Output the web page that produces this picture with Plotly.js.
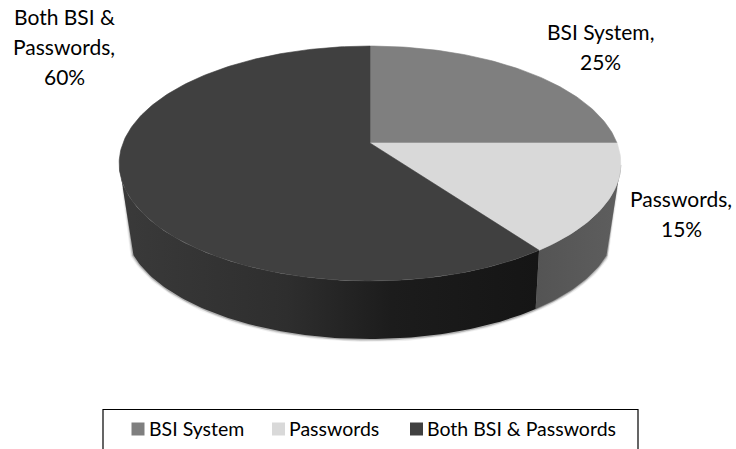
<!DOCTYPE html>
<html>
<head>
<meta charset="utf-8">
<script src="https://cdn.plot.ly/plotly-3.0.1.min.js"></script>
<style>html,body{margin:0;padding:0;background:#fff}#chart{width:736px;height:449px}</style>
</head>
<body>
<div id="chart"></div>
<script>
// Share of respondents per authentication method
const categories = ['BSI System', 'Passwords', 'Both BSI & Passwords'];
const values = [25, 15, 60];
const labelLines = [['BSI System,'], ['Passwords,'], ['Both BSI &', 'Passwords,']];
const topColors = ['#7f7f7f', '#d9d9d9', '#404040'];

// Perspective discs of the cylinder: top face and bottom rim, in pixel axes
const topDisc = {cx: 370, cy: 143, a: 247, b: 113.9, k: 0.1746};
const rimDisc = {cx: 370, cy: 204, a: 242, b: 111.5, k: 0.1746};

function project(d, frac) {
  const t = 2 * Math.PI * frac, w = 1 + d.k * Math.cos(t);
  return [d.cx + d.a * Math.sin(t) / w, d.cy - d.b * Math.cos(t) / w];
}
function arc(d, f0, f1) {
  const n = Math.max(8, Math.ceil(Math.abs(f1 - f0) * 360)), pts = [];
  for (let i = 0; i <= n; i++) pts.push(project(d, f0 + (f1 - f0) * i / n));
  return pts;
}
function poly(pts, extra) {
  return Object.assign({
    x: pts.map(p => p[0]), y: pts.map(p => p[1]), type: 'scatter', mode: 'lines',
    fill: 'toself', hoverinfo: 'skip', showlegend: false
  }, extra);
}

const total = values.reduce((s, v) => s + v, 0);
const starts = [];
values.reduce((s, v, i) => (starts[i] = s, s + v / total), 0);
const ends = starts.map((s, i) => s + values[i] / total);

// Fractions of a turn where the side wall leaves the silhouette, top face and rim
const topFrom = 0.28, topTo = 0.72;
const rimFrom = 0.32, rimTo = 0.68;

const traces = [];

// Soft shadow along the lower rim
[[6, 0.06], [4, 0.1], [2.5, 0.18]].forEach(([w, o]) => {
  const pts = arc(rimDisc, rimFrom, rimTo);
  pts.unshift(project(topDisc, topFrom + 0.03));
  pts.push(project(topDisc, topTo - 0.03));
  traces.push({x: pts.map(p => p[0]), y: pts.map(p => p[1]), type: 'scatter', mode: 'lines',
    line: {color: 'rgba(0,0,0,' + o + ')', width: w}, hoverinfo: 'skip', showlegend: false});
});

// Side walls: the visible front part of the second and third slices
const wall = (t0, t1, r0, r1, extra) => poly(arc(topDisc, t0, t1).concat(arc(rimDisc, r1, r0)), extra);
traces.push(wall(topFrom, ends[1], rimFrom, ends[1], {
  line: {width: 0.5, color: '#5a5a5a'}, fillcolor: '#5a5a5a',
  fillgradient: {type: 'horizontal', colorscale: [[0, '#545454'], [1, '#5e5e5e']]}
}));
traces.push(wall(starts[2], topTo, starts[2], rimTo, {
  line: {width: 0}, fillcolor: '#222222',
  fillgradient: {type: 'horizontal', colorscale: [[0, '#3a3a3a'], [0.4, '#2e2e2e'], [0.65, '#1c1c1c'], [1, '#151515']]}
}));

// Top faces
categories.forEach((c, i) => {
  const pts = [[topDisc.cx, topDisc.cy]].concat(arc(topDisc, starts[i], ends[i]));
  pts.push([topDisc.cx, topDisc.cy]);
  traces.push(poly(pts, {fillcolor: topColors[i], line: {width: 0.6, color: topColors[i]}, name: c}));
});

// Legend keys
const legendKeyX = [138, 278.5, 416.5];
const legendTextX = [149, 289, 427];
const legendY = 429;
categories.forEach((c, i) => {
  traces.push({x: [legendKeyX[i]], y: [legendY], type: 'scatter', mode: 'markers', name: c,
    marker: {symbol: 'square', size: 13, color: topColors[i]}, hoverinfo: 'name', showlegend: false});
});

// Data labels, one annotation per line so the leading stays at 30px
const labelX = [600, 681, 64];
const labelTop = [31, 198, 16];
const labelStep = 30;
const labelFont = {family: 'Lato, sans-serif', size: 21, color: '#000'};
const legendFont = {family: 'Lato, sans-serif', size: 19.5, color: '#000'};
const annotations = [];
categories.forEach((c, i) => {
  labelLines[i].concat(values[i] + '%').forEach((line, j) => {
    annotations.push({x: labelX[i], y: labelTop[i] + j * labelStep, xref: 'x', yref: 'y',
      showarrow: false, text: line, font: labelFont});
  });
  annotations.push({x: legendTextX[i], y: legendY - 1, xref: 'x', yref: 'y', xanchor: 'left',
    showarrow: false, text: c, font: legendFont, xshift: -2});
});

const layout = {
  width: 736, height: 449,
  margin: {l: 0, r: 0, t: 0, b: 0},
  paper_bgcolor: '#fff', plot_bgcolor: '#fff',
  showlegend: false,
  xaxis: {range: [0, 736], visible: false, fixedrange: true},
  yaxis: {range: [449, 0], visible: false, fixedrange: true},
  annotations,
  // Legend frame, running off the lower edge
  shapes: [{type: 'path', xref: 'x', yref: 'y', path: 'M 103 452 L 103 409.5 L 638 409.5 L 638 452',
    line: {color: '#000', width: 1.2}}]
};
Plotly.newPlot('chart', traces, layout, {displayModeBar: false, staticPlot: true});
</script>
</body>
</html>
